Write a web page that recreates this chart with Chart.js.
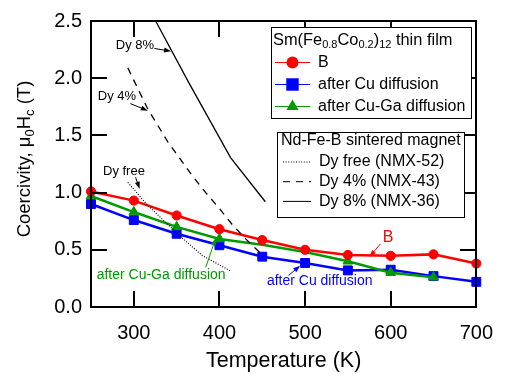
<!DOCTYPE html>
<html>
<head>
<meta charset="utf-8">
<script src="https://cdn.jsdelivr.net/npm/chart.js@4.4.0/dist/chart.umd.min.js"></script>
<style>
html, body { margin: 0; padding: 0; background: #fff; }
</style>
</head>
<body>
<canvas id="myChart" width="507" height="378"></canvas>
<script>
// Sm(Fe0.8Co0.2)12 thin film - coercivity vs temperature
var temps = [250, 300, 350, 400, 450, 500, 550, 600, 650, 700];
var valB = [1.01, 0.93, 0.80, 0.68, 0.585, 0.50, 0.455, 0.447, 0.46, 0.38];
var valCu = [0.90, 0.76, 0.64, 0.54, 0.44, 0.385, 0.32, 0.326, 0.27, 0.22];
var valCuGa = [0.97, 0.83, 0.70, 0.595, 0.545, 0.48, 0.40, 0.30, 0.26, null];
var cuGaMarker = [true, true, true, true, false, false, true, true, true, false];

// Nd-Fe-B sintered magnets (reference curves)
var tDyFree = [293, 316, 340, 357, 380, 414];
var valDyFree = [1.09, 0.89, 0.72, 0.60, 0.45, 0.31];
var tDy4 = [293, 316, 340, 368, 384, 400, 415, 430, 450];
var valDy4 = [2.09, 1.735, 1.44, 1.15, 1.0, 0.86, 0.72, 0.60, 0.455];
var tDy8 = [325.5, 365, 413, 453.6];
var valDy8 = [2.5, 1.95, 1.306, 0.92];

var xTicks = [300, 400, 500, 600, 700];
var yTicks = [0, 0.5, 1.0, 1.5, 2.0, 2.5];

var FONT = '"Liberation Sans", Arial, sans-serif';
var RED = '#ff0000', BLUE = '#0000ff', GREEN = '#009a00';

function pts(xs, ys) {
    return xs.map(function (x, i) { return { x: x, y: ys[i] }; });
}

// texte avec indices
function richWidth(ctx, parts, size) {
    var w = 0;
    parts.forEach(function (p) {
        ctx.font = (p[1] ? Math.round(size * 0.7) : size) + 'px ' + FONT;
        w += ctx.measureText(p[0]).width;
    });
    return w;
}
function richText(ctx, parts, x, y, size) {
    var cx = x;
    parts.forEach(function (p) {
        ctx.font = (p[1] ? Math.round(size * 0.7) : size) + 'px ' + FONT;
        ctx.fillText(p[0], cx, y + (p[1] ? size * 0.3 : 0));
        cx += ctx.measureText(p[0]).width;
    });
}

function arrow(ctx, x1, y1, x2, y2, color) {
    var a = Math.atan2(y2 - y1, x2 - x1);
    ctx.strokeStyle = color;
    ctx.fillStyle = color;
    ctx.lineWidth = 1;
    ctx.beginPath();
    ctx.moveTo(x1, y1);
    ctx.lineTo(x2 - 5 * Math.cos(a), y2 - 5 * Math.sin(a));
    ctx.stroke();
    ctx.beginPath();
    ctx.moveTo(x2, y2);
    ctx.lineTo(x2 - 7 * Math.cos(a) + 2.5 * Math.sin(a), y2 - 7 * Math.sin(a) - 2.5 * Math.cos(a));
    ctx.lineTo(x2 - 7 * Math.cos(a) - 2.5 * Math.sin(a), y2 - 7 * Math.sin(a) + 2.5 * Math.cos(a));
    ctx.closePath();
    ctx.fill();
}

// annotations (coordonnées en unités des axes)
var notes = [
    { text: 'Dy 8%', color: '#000', size: 13, tx: 279, ty: 2.285, a: [324, 2.26, 343.5, 2.236] },
    { text: 'Dy 4%', color: '#000', size: 13, tx: 258, ty: 1.84, a: [296, 1.778, 316.4, 1.716] },
    { text: 'Dy free', color: '#000', size: 13, tx: 264, ty: 1.183, a: [302, 1.134, 306.8, 1.034] },
    { text: 'after Cu-Ga diffusion', color: GREEN, size: 14, tx: 256.6, ty: 0.275, a: [384, 0.346, 395.7, 0.604] },
    { text: 'after Cu diffusion', color: BLUE, size: 14, tx: 455.4, ty: 0.223, a: [480.6, 0.275, 494.2, 0.361] },
    { text: 'B', color: RED, size: 16, tx: 590.7, ty: 0.604, a: [588, 0.552, 575.3, 0.438] }
];

// cadre + graduations vers l'intérieur
function drawFrame(chart) {
    var c = chart.ctx;
    var xs = chart.scales.x, ys = chart.scales.y;
    var L = Math.round(xs.getPixelForValue(250)), R = Math.round(xs.getPixelForValue(700));
    var T = Math.round(ys.getPixelForValue(2.5)), B = Math.round(ys.getPixelForValue(0));
    c.save();
    c.fillStyle = '#000';
    c.fillRect(L - 1, T - 1, R - L + 2, 2);
    c.fillRect(L - 1, B - 1, R - L + 2, 2);
    c.fillRect(L - 1, T - 1, 2, B - T + 2);
    c.fillRect(R - 1, T - 1, 2, B - T + 2);
    xTicks.forEach(function (v) {
        var px = Math.round(xs.getPixelForValue(v));
        c.fillRect(px - 1, B - 16, 2, 16);
        c.fillRect(px - 1, T, 2, 16);
    });
    yTicks.forEach(function (v) {
        var py = Math.round(ys.getPixelForValue(v));
        c.fillRect(L, py - 1, 16, 2);
        c.fillRect(R - 16, py - 1, 16, 2);
    });
    c.restore();
}

var decorPlugin = {
    id: 'decor',
    beforeDraw: function (chart) {
        var c = chart.ctx;
        c.save();
        c.fillStyle = '#fff';
        c.fillRect(0, 0, chart.width, chart.height);
        c.restore();
    },
    afterDatasetsDraw: function (chart) {
        var c = chart.ctx;
        var xs = chart.scales.x, ys = chart.scales.y;
        var ds = chart.data.datasets;

        drawFrame(chart);

        c.save();
        c.textBaseline = 'middle';
        c.textAlign = 'left';

        // annotations
        notes.forEach(function (n) {
            c.fillStyle = n.color;
            c.font = n.size + 'px ' + FONT;
            c.fillText(n.text, xs.getPixelForValue(n.tx), ys.getPixelForValue(n.ty));
            arrow(c, xs.getPixelForValue(n.a[0]), ys.getPixelForValue(n.a[1]),
                xs.getPixelForValue(n.a[2]), ys.getPixelForValue(n.a[3]), n.color);
        });

        // légende 1
        c.fillStyle = '#fff';
        c.fillRect(271.5, 27.5, 200, 91);
        c.strokeStyle = '#000';
        c.lineWidth = 1;
        c.strokeRect(271.5, 27.5, 200, 91);
        c.fillStyle = '#000';
        richText(c, [['Sm(Fe', 0], ['0.8', 1], ['Co', 0], ['0.2', 1], [')', 0], ['12', 1], [' thin film', 0]], 273, 40, 16.4);
        [0, 1, 2].forEach(function (i, k) {
            var y = 62.5 + k * 22;
            var d = ds[i];
            c.strokeStyle = d.borderColor;
            c.lineWidth = 1;
            c.beginPath(); c.moveTo(275, y); c.lineTo(310, y); c.stroke();
            c.fillStyle = d.backgroundColor;
            Chart.helpers.drawPoint(c, { pointStyle: d.pointStyle, radius: d.legendRadius, borderWidth: 0 }, 292.5, y);
            c.fillStyle = '#000';
            c.font = '16px ' + FONT;
            c.fillText(d.label, 318, y);
        });

        // légende 2
        c.fillStyle = '#fff';
        c.fillRect(277.5, 132.5, 187, 85);
        c.strokeStyle = '#000';
        c.lineWidth = 1;
        c.strokeRect(277.5, 132.5, 187, 85);
        c.fillStyle = '#000';
        c.font = '16px ' + FONT;
        c.fillText('Nd-Fe-B sintered magnet', 281, 141);
        [3, 4, 5].forEach(function (i, k) {
            var y = 162 + k * 19.7;
            var d = ds[i];
            c.strokeStyle = '#000';
            c.lineWidth = 1;
            c.setLineDash(d.borderDash || []);
            c.beginPath(); c.moveTo(283, y); c.lineTo(311, y); c.stroke();
            c.setLineDash([]);
            c.fillStyle = '#000';
            c.fillText(d.label, 319, y);
        });

        // titre de l'axe y
        var yParts = [['Coercivity, \u03bc', 0], ['0', 1], ['H', 0], ['c', 1], [' (T)', 0]];
        var w = richWidth(c, yParts, 18.5);
        c.translate(25, (chart.chartArea.top + chart.chartArea.bottom) / 2 - 5);
        c.rotate(-Math.PI / 2);
        c.fillStyle = '#000';
        richText(c, yParts, -w / 2, 0, 18.5);
        c.restore();
    }
};

var ctx = document.getElementById('myChart').getContext('2d');
var myChart = new Chart(ctx, {
    type: 'line',
    data: {
        datasets: [{
            label: 'B',
            data: pts(temps, valB),
            borderColor: RED, backgroundColor: RED,
            borderWidth: 2.5, pointStyle: 'circle', pointRadius: 4.6, legendRadius: 6,
            pointBorderWidth: 1, order: 1
        }, {
            label: 'after Cu diffusion',
            data: pts(temps, valCu),
            borderColor: BLUE, backgroundColor: BLUE,
            borderWidth: 2.5, pointStyle: 'rect', pointRadius: 6.3, legendRadius: 8.8,
            pointBorderWidth: 1, order: 3
        }, {
            label: 'after Cu-Ga diffusion',
            data: pts(temps, valCuGa),
            borderColor: GREEN, backgroundColor: GREEN,
            borderWidth: 2.5, pointStyle: 'triangle', legendRadius: 7,
            pointRadius: cuGaMarker.map(function (m) { return m ? 5.6 : 0; }),
            pointBorderWidth: 1, order: 2
        }, {
            label: 'Dy free (NMX-52)',
            data: pts(tDyFree, valDyFree),
            borderColor: '#000', borderWidth: 1.2, borderDash: [1, 1.6],
            pointRadius: 0, order: 0
        }, {
            label: 'Dy 4% (NMX-43)',
            data: pts(tDy4, valDy4),
            borderColor: '#000', borderWidth: 1.3, borderDash: [7, 6],
            pointRadius: 0, order: 0
        }, {
            label: 'Dy 8% (NMX-36)',
            data: pts(tDy8, valDy8),
            borderColor: '#000', borderWidth: 1.3,
            pointRadius: 0, order: 0
        }]
    },
    options: {
        responsive: false,
        animation: false,
        devicePixelRatio: 1,
        layout: { padding: { left: 0, top: 16, right: 28, bottom: 0 } },
        elements: { line: { tension: 0 } },
        datasets: { line: { clip: false } },
        plugins: { legend: { display: false }, tooltip: { enabled: false } },
        scales: {
            x: {
                type: 'linear',
                position: 'bottom',
                min: 250, max: 700,
                afterBuildTicks: function (s) { s.ticks = xTicks.map(function (v) { return { value: v }; }); },
                afterFit: function (s) { s.height = 71; },
                grid: { display: false, drawTicks: false },
                border: { display: false },
                ticks: { color: '#000', font: { family: FONT, size: 20 }, padding: 14, maxRotation: 0, autoSkip: false },
                title: { display: true, text: 'Temperature (K)', color: '#000', font: { family: FONT, size: 21.5 }, padding: { top: 0, bottom: 4 } }
            },
            y: {
                type: 'linear',
                position: 'left',
                min: 0, max: 2.5,
                afterBuildTicks: function (s) { s.ticks = yTicks.map(function (v) { return { value: v }; }); },
                afterFit: function (s) { s.width = 91; },
                grid: { display: false, drawTicks: false },
                border: { display: false },
                ticks: {
                    color: '#000', font: { family: FONT, size: 20 }, padding: 9,
                    callback: function (v) { return v.toFixed(1); }
                }
            }
        }
    },
    plugins: [decorPlugin]
});
</script>
</body>
</html>
